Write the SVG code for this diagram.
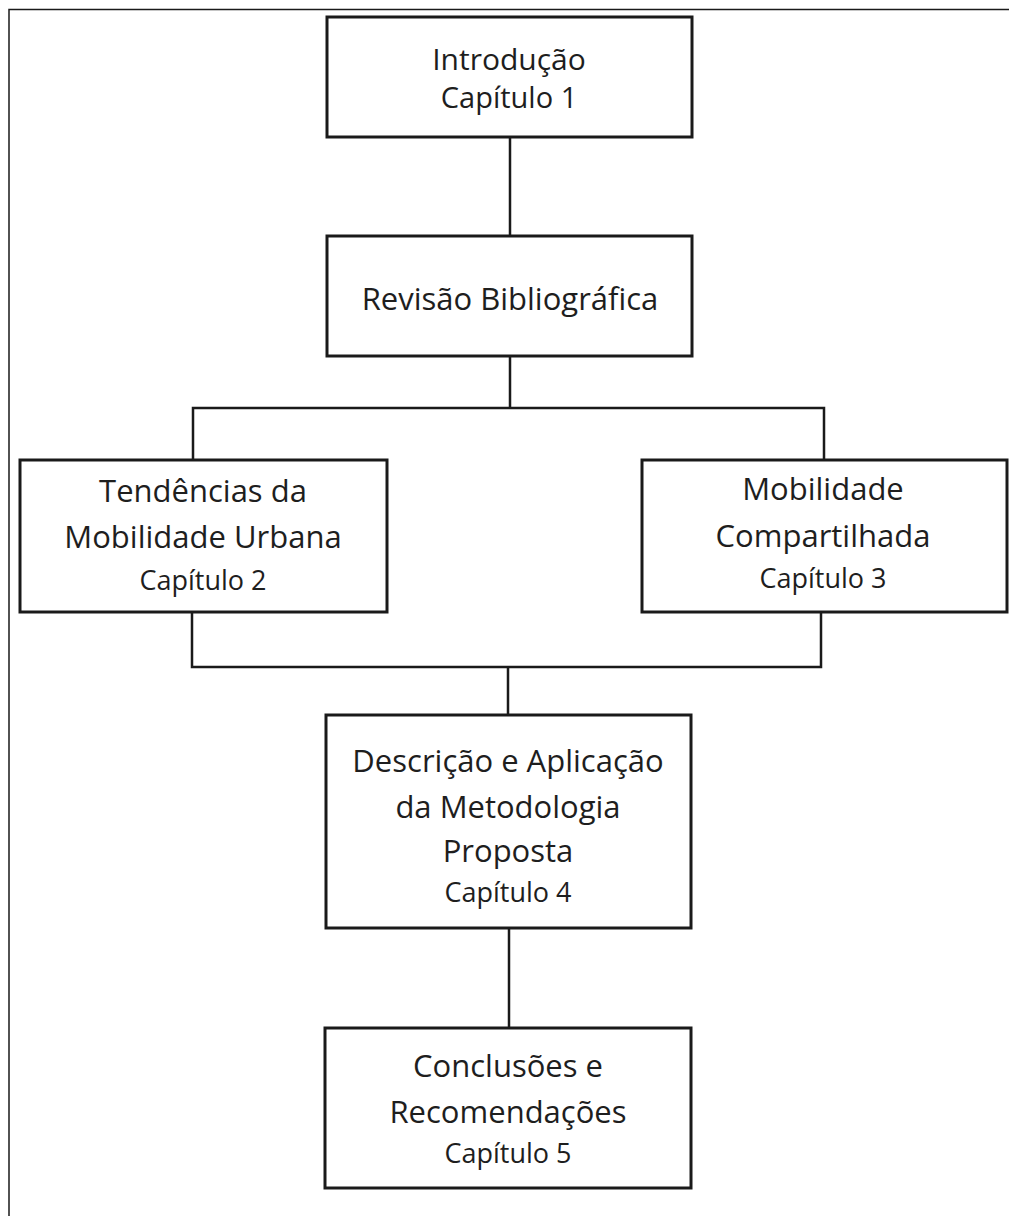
<svg xmlns="http://www.w3.org/2000/svg" width="1009" height="1216" viewBox="0 0 1009 1216">
<style>
.box{fill:#fff;stroke:#1a1a1a;stroke-width:3}
.frame{fill:none;stroke:#1a1a1a;stroke-width:1.5}
.con{fill:none;stroke:#1a1a1a;stroke-width:2.5}
.t{font-family:"Open Sans","Liberation Sans",sans-serif;font-size:31px;fill:#1e1e1e;text-anchor:middle}
.c{font-family:"Open Sans","Liberation Sans",sans-serif;font-size:27px;fill:#1e1e1e;text-anchor:middle}
</style>
<rect width="1009" height="1216" fill="#fff"/>
<path class="frame" d="M9,1216 V9.5 H1009"/>
<g id="connectors">
<path class="con" d="M510,137 V236"/>
<path class="con" d="M510,356 V408 M193,460 V408 H824 V460"/>
<path class="con" d="M192,612 V667 H821 V612 M508,667 V715"/>
<path class="con" d="M509,928 V1028"/>
</g>
<g id="n1">
<rect class="box" x="327" y="17" width="365" height="120"/>
<text class="t" x="509" y="70" style="font-size:30px">Introdução</text>
<text class="c" x="509" y="108" style="font-size:29px">Capítulo 1</text>
</g>
<g id="n2">
<rect class="box" x="327" y="236" width="365" height="120"/>
<text class="t" x="510" y="310">Revisão Bibliográfica</text>
</g>
<g id="n3">
<rect class="box" x="20" y="460" width="367" height="152"/>
<text class="t" x="203" y="502">Tendências da</text>
<text class="t" x="203" y="548">Mobilidade Urbana</text>
<text class="c" x="203" y="590">Capítulo 2</text>
</g>
<g id="n4">
<rect class="box" x="642" y="460" width="365" height="152"/>
<text class="t" x="823" y="500">Mobilidade</text>
<text class="t" x="823" y="547">Compartilhada</text>
<text class="c" x="823" y="588">Capítulo 3</text>
</g>
<g id="n5">
<rect class="box" x="326" y="715" width="365" height="213"/>
<text class="t" x="508" y="772">Descrição e Aplicação</text>
<text class="t" x="508" y="818">da Metodologia</text>
<text class="t" x="508" y="862">Proposta</text>
<text class="c" x="508" y="902">Capítulo 4</text>
</g>
<g id="n6">
<rect class="box" x="325" y="1028" width="366" height="160"/>
<text class="t" x="508" y="1077">Conclusões e</text>
<text class="t" x="508" y="1123">Recomendações</text>
<text class="c" x="508" y="1163">Capítulo 5</text>
</g>
</svg>
